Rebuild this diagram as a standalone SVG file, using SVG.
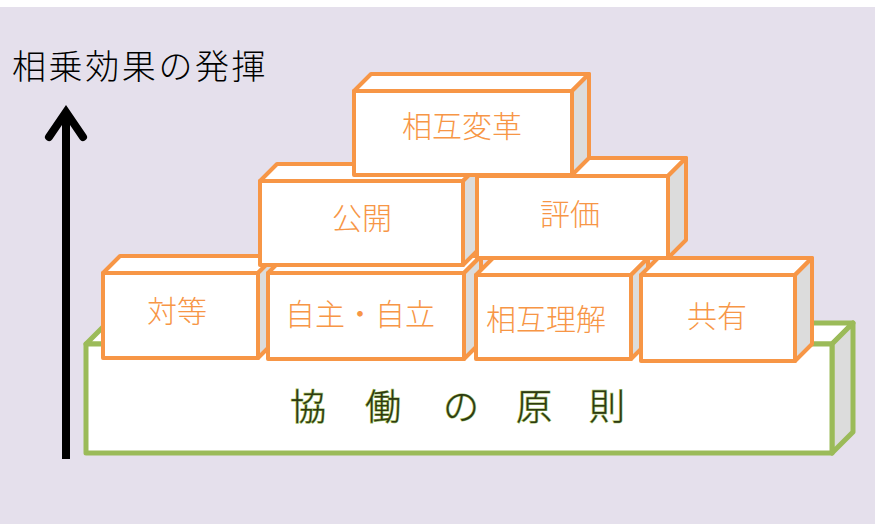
<svg xmlns="http://www.w3.org/2000/svg" width="875" height="524" viewBox="0 0 875 524">
<style>
.o{fill:#fff;stroke:#F79646;stroke-width:4;stroke-linejoin:round}
.os{fill:#DCDCDC;stroke:#F79646;stroke-width:4;stroke-linejoin:round}
.g{fill:#fff;stroke:#9BBB59;stroke-width:5;stroke-linejoin:round}
.gs{fill:#DCDCDC;stroke:#9BBB59;stroke-width:5;stroke-linejoin:round}
.lbl{font-family:"Noto Sans CJK JP","Noto Sans",sans-serif;font-size:30px;font-weight:300;fill:#F79646;text-anchor:middle}
.base{font-family:"Noto Sans CJK JP","Noto Sans",sans-serif;font-size:36px;font-weight:300;fill:#2E3A12;stroke:#9BBB59;stroke-width:1.2;paint-order:stroke;text-anchor:middle}
.title{font-family:"Noto Sans CJK JP","Noto Sans",sans-serif;font-size:34px;font-weight:300;fill:#000}
</style>
<rect x="0" y="7" width="875" height="517" fill="#E5E0EC"/>
<text class="title" x="12" y="79" letter-spacing="2.6">相乗効果の発揮</text>
<g id="arrow">
<line x1="66" y1="459" x2="66" y2="114" stroke="#000" stroke-width="8"/>
<polyline points="49,137 66,112 83,137" fill="none" stroke="#000" stroke-width="8" stroke-linecap="round" stroke-linejoin="miter"/>
</g>
<g id="base">
<polygon class="g" points="86,344 107,323 853,323 832,344"/>
<polygon class="gs" points="832,344 853,323 853,432 832,453"/>
<rect class="g" x="86" y="344" width="746" height="109"/>
<text class="base" x="308" y="420">協</text>
<text class="base" x="383" y="420">働</text>
<text class="base" x="461" y="420">の</text>
<text class="base" x="534" y="420">原</text>
<text class="base" x="607" y="420">則</text>
</g>
<g id="taitou">
<polygon class="o" points="103,273 120,256 275,256 258,273"/>
<polygon class="os" points="258,273 275,256 275,341 258,358"/>
<rect class="o" x="103" y="273" width="155" height="85"/>
<text class="lbl" x="177" y="322">対等</text>
</g>
<g id="jishu">
<polygon class="o" points="268,273 285,256 481,256 464,273"/>
<polygon class="os" points="464,273 481,256 481,342 464,359"/>
<rect class="o" x="268" y="273" width="196" height="86"/>
<text class="lbl" x="360" y="325">自主・自立</text>
</g>
<g id="rikai">
<polygon class="o" points="476,275 493,258 648,258 631,275"/>
<polygon class="os" points="631,275 648,258 648,342 631,359"/>
<rect class="o" x="476" y="275" width="155" height="84"/>
<text class="lbl" x="546" y="330">相互理解</text>
</g>
<g id="kyoyu">
<polygon class="o" points="641,275 658,258 812,258 795,275"/>
<polygon class="os" points="795,275 812,258 812,344 795,361"/>
<rect class="o" x="641" y="275" width="154" height="86"/>
<text class="lbl" x="717" y="327">共有</text>
</g>
<g id="kokai">
<polygon class="o" points="260,181 277,164 480,164 463,181"/>
<polygon class="os" points="463,181 480,164 480,248 463,265"/>
<rect class="o" x="260" y="181" width="203" height="84"/>
<text class="lbl" x="362" y="229">公開</text>
</g>
<g id="hyoka">
<polygon class="o" points="477,176 495,158 686,158 668,176"/>
<polygon class="os" points="668,176 686,158 686,240 668,258"/>
<rect class="o" x="477" y="176" width="191" height="82"/>
<text class="lbl" x="570" y="225">評価</text>
</g>
<g id="henkaku">
<polygon class="o" points="354,91 371,74 589,74 572,91"/>
<polygon class="os" points="572,91 589,74 589,158 572,175"/>
<rect class="o" x="354" y="91" width="218" height="84"/>
<text class="lbl" x="462" y="137">相互変革</text>
</g>
</svg>
